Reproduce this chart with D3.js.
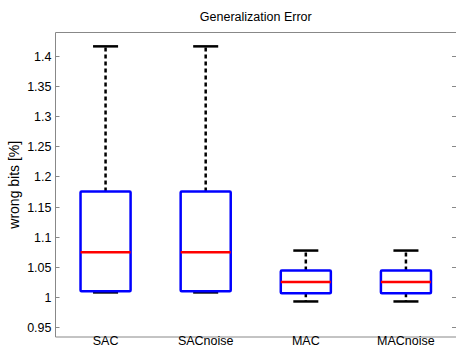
<!DOCTYPE html>
<html>
<head>
<meta charset="utf-8">
<script src="https://cdn.jsdelivr.net/npm/d3@7"></script>
<style>
  body { margin: 0; background: #fff; }
  svg { font-family: 'Liberation Sans', Arial, sans-serif; }
</style>
</head>
<body>
<div class="chart"></div>
<script>
const categories = ['SAC', 'SACnoise', 'MAC', 'MACnoise'];
const whiskerLow = [1.0075, 1.0075, 0.9925, 0.9925];
const q1 = [1.0095, 1.0095, 1.006, 1.006];
const medians = [1.074, 1.074, 1.025, 1.025];
const q3 = [1.175, 1.175, 1.044, 1.044];
const whiskerHigh = [1.416, 1.416, 1.077, 1.077];
const yTicks = [0.95, 1, 1.05, 1.1, 1.15, 1.2, 1.25, 1.3, 1.35, 1.4];

const width = 456, height = 348;
const margin = { left: 55.5, top: 32.5, right: 0, bottom: 11 };

const svg = d3.select('.chart').append('svg')
  .attr('width', width)
  .attr('height', height);

const x = d3.scaleLinear().domain([0.5, 4.5]).range([margin.left, width - margin.right]);
const y = d3.scaleLinear().domain([0.9335, 1.439]).range([height - margin.bottom, margin.top]);

const boxes = categories.map((c, i) => ({
  name: c, pos: i + 1,
  lo: whiskerLow[i], q1: q1[i], med: medians[i], q3: q3[i], hi: whiskerHigh[i]
}));

// frame
const x0 = x(0.5), x1 = x(4.5), yTop = y.range()[1], yBot = y.range()[0];
svg.append('path')
  .attr('d', `M${x1},${yTop}H${x0}V${yBot}H${x1}`)
  .attr('fill', 'none')
  .attr('stroke', '#888')
  .attr('stroke-width', 1);

// y ticks, inward on both sides
yTicks.forEach((t) => {
  const yy = Math.round(y(t)) + 0.5;
  svg.append('line')
    .attr('x1', x0).attr('x2', x0 + 4)
    .attr('y1', yy).attr('y2', yy)
    .attr('stroke', '#888');
  svg.append('line')
    .attr('x1', x1 - 4).attr('x2', x1)
    .attr('y1', yy).attr('y2', yy)
    .attr('stroke', '#888');
  svg.append('text')
    .attr('x', x0 - 4)
    .attr('y', yy + 4)
    .attr('text-anchor', 'end')
    .style('font-size', '12.5px')
    .text(d3.format('')(t));
});

const g = svg.append('g');
const boxW = x(1.25) - x(1);
const capW = x(1.125) - x(1);

boxes.forEach((d) => {
  const cx = x(d.pos);
  // whiskers
  g.append('line')
    .attr('x1', cx).attr('x2', cx)
    .attr('y1', y(d.q3)).attr('y2', y(d.hi))
    .attr('stroke', '#000').attr('stroke-width', 2.5)
    .attr('stroke-dasharray', '4,3');
  g.append('line')
    .attr('x1', cx).attr('x2', cx)
    .attr('y1', y(d.q1)).attr('y2', y(d.lo))
    .attr('stroke', '#000').attr('stroke-width', 2.5)
    .attr('stroke-dasharray', '4,3');
  // caps
  [d.lo, d.hi].forEach((v) => {
    g.append('line')
      .attr('x1', cx - capW).attr('x2', cx + capW)
      .attr('y1', y(v)).attr('y2', y(v))
      .attr('stroke', '#000').attr('stroke-width', 2.5);
  });
  // box
  g.append('rect')
    .attr('x', cx - boxW)
    .attr('y', y(d.q3))
    .attr('width', boxW * 2)
    .attr('height', y(d.q1) - y(d.q3))
    .attr('fill', 'none')
    .attr('stroke', '#0000ff')
    .attr('stroke-width', 2.5)
    .attr('rx', 1);
  // median
  g.append('line')
    .attr('x1', cx - boxW).attr('x2', cx + boxW)
    .attr('y1', y(d.med)).attr('y2', y(d.med))
    .attr('stroke', '#ff0000').attr('stroke-width', 2.5);
  // category label
  svg.append('text')
    .attr('x', cx)
    .attr('y', height - 3)
    .attr('text-anchor', 'middle')
    .style('font-size', '12.5px')
    .text(d.name);
});

svg.append('text')
  .attr('x', (x0 + x1) / 2)
  .attr('y', 21)
  .attr('text-anchor', 'middle')
  .style('font-size', '12.5px')
  .text('Generalization Error');

svg.append('text')
  .attr('transform', `translate(19,${(yTop + yBot) / 2}) rotate(-90)`)
  .attr('text-anchor', 'middle')
  .style('font-size', '14px')
  .text('wrong bits [%]');
</script>
</body>
</html>
